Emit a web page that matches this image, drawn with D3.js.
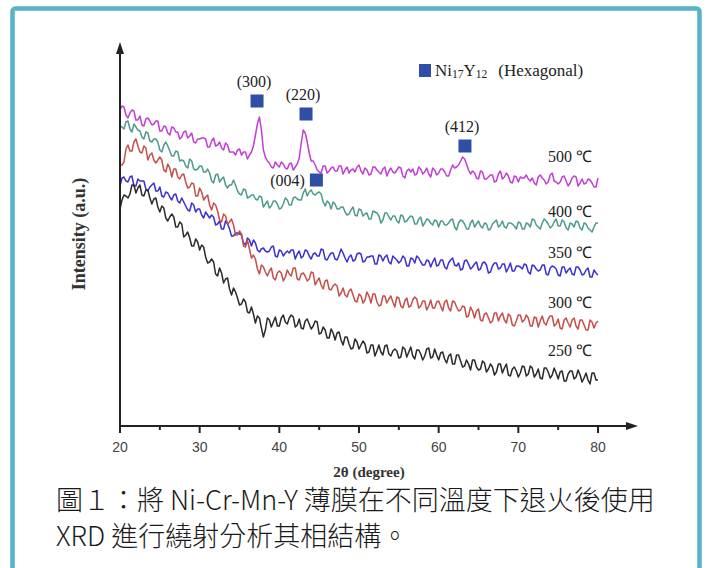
<!DOCTYPE html>
<html>
<head>
<meta charset="utf-8">
<script src="https://cdn.jsdelivr.net/npm/d3@7"></script>
<style>
  html, body { margin: 0; padding: 0; background: #fff; }
  svg { display: block; }
</style>
</head>
<body>
<svg id="chart" width="707" height="568"></svg>
<script>
// 2θ sampled every 0.25 degree from 20 to 80
const twoTheta = d3.range(0, 241).map(i => 20 + i * 0.25);

// intensity (a.u.) per curve, already stacked with offset
const int500 = [316,320,319,311,308,313,316,315,306,306,310,301,300,307,308,305,301,302,305,305,
  295,295,300,299,293,291,299,298,294,294,287,289,294,295,288,290,293,284,283,287,
  287,288,288,287,279,279,285,288,280,281,284,278,276,283,281,274,274,274,271,276,
  277,271,274,274,267,271,274,280,291,302,309,296,276,269,265,263,259,258,264,261,
  259,264,262,258,257,262,263,256,259,262,268,283,296,293,284,273,265,265,261,256,
  254,253,260,260,253,255,258,259,255,255,260,260,252,256,259,253,256,257,254,259,
  261,255,252,258,256,251,252,259,259,256,254,252,257,259,250,255,258,254,253,256,
  259,258,250,248,255,257,254,257,251,252,259,257,252,254,258,252,249,258,256,251,
  253,257,257,254,250,250,256,261,258,259,261,265,269,267,262,256,252,255,253,248,
  247,255,254,247,247,249,251,251,244,245,252,255,247,249,253,250,244,243,250,249,
  244,249,248,248,251,247,245,248,243,241,249,251,248,246,242,244,251,253,245,244,
  242,244,249,250,245,240,243,248,250,249,240,243,247,242,243,247,246,243,239,239,
  248];
const int400 = [300,299,297,304,305,297,294,302,299,296,295,289,287,294,293,285,284,287,287,284,
  276,274,281,284,280,275,270,270,275,274,265,266,265,260,258,267,265,257,256,257,
  260,260,254,254,257,253,245,243,251,252,244,247,249,241,238,241,241,246,241,235,
  232,231,237,236,228,229,231,231,227,226,230,229,219,222,225,218,220,225,225,222,
  217,218,222,228,226,221,221,228,229,227,226,226,233,237,230,234,236,232,231,233,
  234,232,224,220,225,223,217,224,222,217,217,219,219,214,211,212,216,219,211,210,
  217,216,210,212,213,207,207,215,214,213,210,203,206,213,213,209,206,210,210,205,
  203,211,210,204,205,208,210,209,202,202,207,209,200,203,207,206,203,201,206,205,
  199,205,205,201,201,203,206,207,199,196,203,206,205,202,197,197,203,206,199,202,
  205,200,198,203,202,196,197,202,204,206,199,201,205,199,198,203,203,202,200,197,
  204,203,197,197,203,202,199,207,206,201,199,197,203,207,205,202,198,200,204,207,
  200,200,206,204,198,196,203,202,199,205,204,198,196,203,202,198,196,194,199,203,
  203];
const int350 = [240,248,249,245,244,249,250,240,240,247,245,245,245,237,235,239,241,243,235,235,
  239,230,229,234,233,229,226,231,232,225,223,228,224,220,216,215,223,221,214,217,
  217,211,208,214,211,208,211,209,201,202,205,197,197,205,202,197,190,190,193,193,
  192,191,183,181,188,186,180,186,183,176,174,177,178,175,174,175,179,180,170,169,
  176,175,170,173,175,173,176,176,167,172,175,168,170,176,175,170,167,172,173,170,
  170,177,176,167,166,170,173,173,167,166,171,177,173,168,164,169,171,165,166,172,
  173,172,164,165,169,169,170,170,162,162,171,170,165,169,171,164,162,170,168,166,
  163,165,170,168,160,160,168,167,163,170,168,164,161,161,166,165,159,164,168,160,
  161,166,166,159,157,163,166,168,161,160,163,156,157,165,166,162,157,159,162,164,
  156,157,163,164,161,153,154,160,163,163,157,158,162,162,154,158,163,155,155,160,
  160,159,157,162,161,154,152,161,160,157,155,156,161,161,152,151,158,160,159,157,
  151,150,159,159,153,156,158,152,151,159,159,156,151,152,156,158,149,149,156,153,
  151];
const int300 = [261,261,264,277,281,275,275,284,287,280,274,273,280,278,266,271,273,266,263,266,
  269,266,256,254,262,258,249,257,257,249,247,251,252,244,238,239,243,242,230,230,
  238,234,226,229,231,221,216,223,221,215,206,204,212,210,202,204,207,201,191,191,
  195,192,180,179,186,177,168,171,167,157,152,161,159,154,150,155,158,148,146,153,
  155,153,145,149,156,152,150,158,158,147,146,152,153,150,145,147,154,153,141,145,
  148,141,137,145,146,137,136,140,142,140,130,133,138,131,129,135,137,131,125,124,
  132,130,123,126,134,130,123,132,132,124,120,121,130,130,123,127,130,124,119,129,
  128,120,118,125,128,119,120,126,129,127,118,120,125,125,116,120,126,118,118,124,
  125,120,115,124,126,118,115,125,124,119,115,116,120,119,109,110,119,115,108,115,
  117,106,105,112,113,108,103,105,113,113,105,110,113,106,103,112,110,101,100,105,
  111,111,104,106,111,108,100,100,109,108,99,105,110,103,101,107,110,110,100,102,
  107,98,97,106,108,103,99,106,108,100,97,106,106,101,96,96,106,104,98,103,
  105];
const int250 = [217,226,231,230,228,232,241,241,233,238,241,231,230,236,236,228,222,227,228,219,
  214,220,218,208,205,209,212,209,199,199,204,202,189,191,194,188,180,180,187,184,
  176,181,179,169,163,164,167,164,152,150,158,153,143,147,148,137,131,138,134,128,
  121,122,127,124,114,113,119,112,103,110,108,98,89,96,108,106,99,104,109,100,
  100,108,111,104,102,108,111,109,99,101,107,98,97,105,107,102,97,100,105,104,
  92,93,99,96,88,88,97,93,86,93,94,86,81,89,89,82,77,78,87,84,
  77,81,85,82,73,74,81,81,70,75,81,74,71,80,81,72,70,75,77,75,
  68,69,79,77,69,74,79,70,67,76,76,72,66,70,77,78,68,69,77,71,
  66,73,74,67,63,70,72,62,62,71,71,65,59,60,66,62,56,66,66,59,
  56,57,65,63,54,57,62,59,51,54,62,62,53,58,62,51,50,57,59,55,
  49,53,60,59,50,52,60,58,49,52,57,48,47,58,58,54,48,51,58,53,
  47,54,55,45,45,52,55,55,47,49,56,51,44,48,53,46,42,53,53,46,
  46];

const series = [
  { name: "500 ℃", values: int500, color: "#c23fd3", labelLevel: 264 },
  { name: "400 ℃", values: int400, color: "#4f9a8d", labelLevel: 209 },
  { name: "350 ℃", values: int350, color: "#3a32d0", labelLevel: 168 },
  { name: "300 ℃", values: int300, color: "#c4504c", labelLevel: 118 },
  { name: "250 ℃", values: int250, color: "#2b2b2b", labelLevel: 70 }
];

// Ni17Y12 peak markers
const peakHkl = ["(300)", "(220)", "(004)", "(412)"];
const peakTheta = [37.2, 43.35, 44.65, 63.3];
const peakLevel = [325, 312, 246, 280];

const xTicks = [20, 30, 40, 50, 60, 70, 80];
const xMinor = [25, 35, 45, 55, 65, 75];

const svg = d3.select("#chart");

// frame
svg.append("rect")
  .attr("x", 12.5).attr("y", 8.5)
  .attr("width", 687).attr("height", 600)
  .attr("rx", 3)
  .attr("fill", "#fff")
  .attr("stroke", "#58b3c6")
  .attr("stroke-width", 4.5);

const x = d3.scaleLinear().domain([20, 80]).range([120, 598]);
const y = d3.scaleLinear().domain([0, 383]).range([426, 43]);

const serif = "'Liberation Serif', 'Times New Roman', serif";
const sans = "'Liberation Sans', Arial, sans-serif";

// curves
const line = d3.line()
  .x((d, i) => x(twoTheta[i]))
  .y(d => y(d));

svg.append("g").selectAll("path")
  .data(series)
  .join("path")
  .attr("d", d => line(d.values))
  .attr("fill", "none")
  .attr("stroke", d => d.color)
  .attr("stroke-width", 1.5)
  .attr("stroke-linejoin", "round");

// temperature labels
svg.append("g").selectAll("text")
  .data(series)
  .join("text")
  .attr("x", 592)
  .attr("y", d => y(d.labelLevel))
  .attr("text-anchor", "end")
  .attr("font-family", serif)
  .attr("font-size", 16)
  .attr("fill", "#222")
  .text(d => d.name);

// axes
const axisColor = "#222";
svg.append("line")
  .attr("x1", x(20)).attr("x2", 630)
  .attr("y1", y(0)).attr("y2", y(0))
  .attr("stroke", axisColor).attr("stroke-width", 2);
svg.append("path")
  .attr("d", `M638,${y(0)} L626,${y(0) - 4} L626,${y(0) + 4} Z`)
  .attr("fill", axisColor);
svg.append("line")
  .attr("x1", x(20)).attr("x2", x(20))
  .attr("y1", y(0) + 7).attr("y2", 52)
  .attr("stroke", axisColor).attr("stroke-width", 2);
svg.append("path")
  .attr("d", `M${x(20)},42 L${x(20) - 4},54 L${x(20) + 4},54 Z`)
  .attr("fill", axisColor);

const ticks = svg.append("g");
ticks.selectAll("line.major")
  .data(xTicks)
  .join("line")
  .attr("class", "major")
  .attr("x1", d => x(d)).attr("x2", d => x(d))
  .attr("y1", y(0)).attr("y2", y(0) + 7)
  .attr("stroke", axisColor).attr("stroke-width", 2);
ticks.selectAll("line.minor")
  .data(xMinor)
  .join("line")
  .attr("class", "minor")
  .attr("x1", d => x(d)).attr("x2", d => x(d))
  .attr("y1", y(0)).attr("y2", y(0) + 4)
  .attr("stroke", axisColor).attr("stroke-width", 2);
ticks.selectAll("text")
  .data(xTicks)
  .join("text")
  .attr("x", d => x(d))
  .attr("y", 452)
  .attr("text-anchor", "middle")
  .attr("font-family", sans)
  .attr("font-size", 14)
  .attr("fill", "#444")
  .text(d => d);

// axis titles
svg.append("text")
  .attr("transform", "translate(85,234) rotate(-90)")
  .attr("text-anchor", "middle")
  .attr("font-family", serif)
  .attr("font-weight", "bold")
  .attr("font-size", 18)
  .attr("fill", "#333")
  .text("Intensity (a.u.)");

svg.append("text")
  .attr("x", 369).attr("y", 477)
  .attr("text-anchor", "middle")
  .attr("font-family", serif)
  .attr("font-weight", "bold")
  .attr("font-size", 15)
  .attr("fill", "#333")
  .text("2θ (degree)");

// peak markers
const markColor = "#2f4fa6";
const sq = 13;
const peaks = svg.append("g");
peaks.selectAll("rect")
  .data(peakHkl)
  .join("rect")
  .attr("x", (d, i) => x(peakTheta[i]) - sq / 2)
  .attr("y", (d, i) => y(peakLevel[i]) - sq / 2)
  .attr("width", sq).attr("height", sq)
  .attr("fill", markColor);
peaks.selectAll("text")
  .data(peakHkl)
  .join("text")
  .attr("x", (d, i) => d === "(004)" ? x(peakTheta[i]) - sq / 2 - 5 : x(peakTheta[i]) - 3)
  .attr("y", (d, i) => d === "(004)" ? y(peakLevel[i]) + 6 : y(peakLevel[i]) - sq / 2 - 8)
  .attr("text-anchor", d => d === "(004)" ? "end" : "middle")
  .attr("font-family", serif)
  .attr("font-size", 16)
  .attr("fill", "#222")
  .text(d => d);

// legend
const legend = svg.append("g").attr("transform", "translate(419,64)");
legend.append("rect")
  .attr("width", 12).attr("height", 13)
  .attr("fill", markColor);
const lt = legend.append("text")
  .attr("x", 16).attr("y", 12)
  .attr("font-family", serif)
  .attr("font-size", 17)
  .attr("fill", "#222");
lt.append("tspan").text("Ni");
lt.append("tspan").attr("font-size", 11.5).attr("dy", 2).text("17");
lt.append("tspan").attr("dy", -2).text("Y");
lt.append("tspan").attr("font-size", 11.5).attr("dy", 2).text("12");
lt.append("tspan").attr("dy", -2).attr("dx", 11).text("(Hexagonal)");

// caption
const cap = svg.append("g")
  .attr("font-family", "'Noto Sans CJK TC', 'Noto Sans', sans-serif")
  .attr("font-size", 27)
  .attr("font-weight", 300)
  .attr("fill", "#1a1a1a");
cap.append("text").attr("x", 56).attr("y", 510)
  .text("圖１：將 Ni-Cr-Mn-Y 薄膜在不同溫度下退火後使用");
cap.append("text").attr("x", 56).attr("y", 546)
  .text("XRD 進行繞射分析其相結構。");
</script>
</body>
</html>
